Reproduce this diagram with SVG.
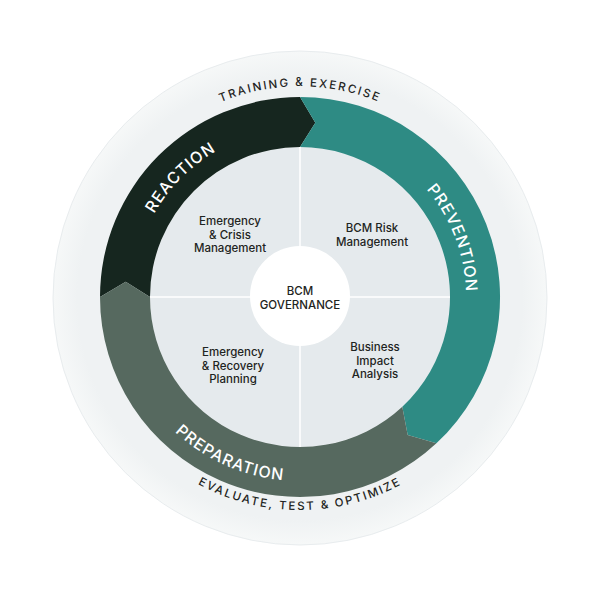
<svg xmlns="http://www.w3.org/2000/svg" width="600" height="598" viewBox="0 0 600 598">
<style>
.q{font-family:Inter,"Liberation Sans",sans-serif;font-size:11.5px;font-weight:500;fill:#1e2422;text-anchor:middle}
.band{font-family:Inter,"Liberation Sans",sans-serif;font-size:16px;font-weight:500;fill:#fff;letter-spacing:1px}
.ring{font-family:Inter,"Liberation Sans",sans-serif;font-size:11.5px;font-weight:500;fill:#1e2422;letter-spacing:2px}
</style>
<defs>
<path id="pTop" d="M117.8,192 A210,210 0 0 1 482.2,192"/>
<path id="pBot" d="M115.5,403.5 A213,213 0 0 0 484.5,403.5"/>
<path id="pRea" d="M137.7,340.5 A168,168 0 0 1 343.5,134.7"/>
<path id="pPrev" d="M326,133 A166,166 0 0 1 429,401.5"/>
<path id="pPrep" d="M117,316.2 A184,184 0 0 0 408.2,445.9"/>
<radialGradient id="bg" cx="0.5" cy="0.5" r="0.5"><stop offset="0.9" stop-color="#eff2f3"/><stop offset="1" stop-color="#f6f8f8"/></radialGradient>
</defs>
<rect width="600" height="598" fill="#fff"/>
<circle cx="300" cy="298" r="247" fill="url(#bg)" stroke="#e8ecee"/>
<g id="quadrants">
<circle cx="300" cy="297" r="150" fill="#e5eaed"/>
<line x1="300" y1="147" x2="300" y2="447" stroke="#fff" stroke-width="1.5"/>
<line x1="150" y1="297" x2="450" y2="297" stroke="#fff" stroke-width="1.5"/>
</g>
<g id="connectors">
<path id="reaction" d="M100,297 A200,200 0 0 1 300,97 L315.3,122.7 L300,147 A150,150 0 0 0 150,297 L125.7,281.7 Z" fill="#16261f"/>
<path id="prevention" d="M300,97 A200,200 0 0 1 436.4,443.3 L407.7,434.9 L402.3,406.7 A150,150 0 0 0 300,147 L315.3,122.7 Z" fill="#2e8b84"/>
<path id="preparation" d="M436.4,443.3 A200,200 0 0 1 100,297 L125.7,281.7 L150,297 A150,150 0 0 0 402.3,406.7 L407.7,434.9 Z" fill="#56695f"/>
</g>
<text class="band"><textPath href="#pRea" startOffset="50%" text-anchor="middle">REACTION</textPath></text>
<text class="band"><textPath href="#pPrev" startOffset="50%" text-anchor="middle">PREVENTION</textPath></text>
<text class="band"><textPath href="#pPrep" startOffset="50%" text-anchor="middle">PREPARATION</textPath></text>
<text class="ring"><textPath href="#pTop" startOffset="50%" text-anchor="middle">TRAINING &amp; EXERCISE</textPath></text>
<text class="ring"><textPath href="#pBot" startOffset="50%" text-anchor="middle">EVALUATE, TEST &amp; OPTIMIZE</textPath></text>
<g id="q1"><text class="q" x="230" y="225">Emergency</text><text class="q" x="230" y="238.5">&amp; Crisis</text><text class="q" x="230" y="252">Management</text></g>
<g id="q2"><text class="q" x="372" y="232">BCM Risk</text><text class="q" x="372" y="245.5">Management</text></g>
<g id="q3"><text class="q" x="233" y="356">Emergency</text><text class="q" x="233" y="369.5">&amp; Recovery</text><text class="q" x="233" y="383">Planning</text></g>
<g id="q4"><text class="q" x="375" y="351">Business</text><text class="q" x="375" y="364.5">Impact</text><text class="q" x="375" y="378">Analysis</text></g>
<g id="center"><circle cx="300" cy="296" r="50" fill="#fff"/><text class="q" x="300" y="295">BCM</text><text class="q" x="300" y="308.5">GOVERNANCE</text></g>
</svg>
